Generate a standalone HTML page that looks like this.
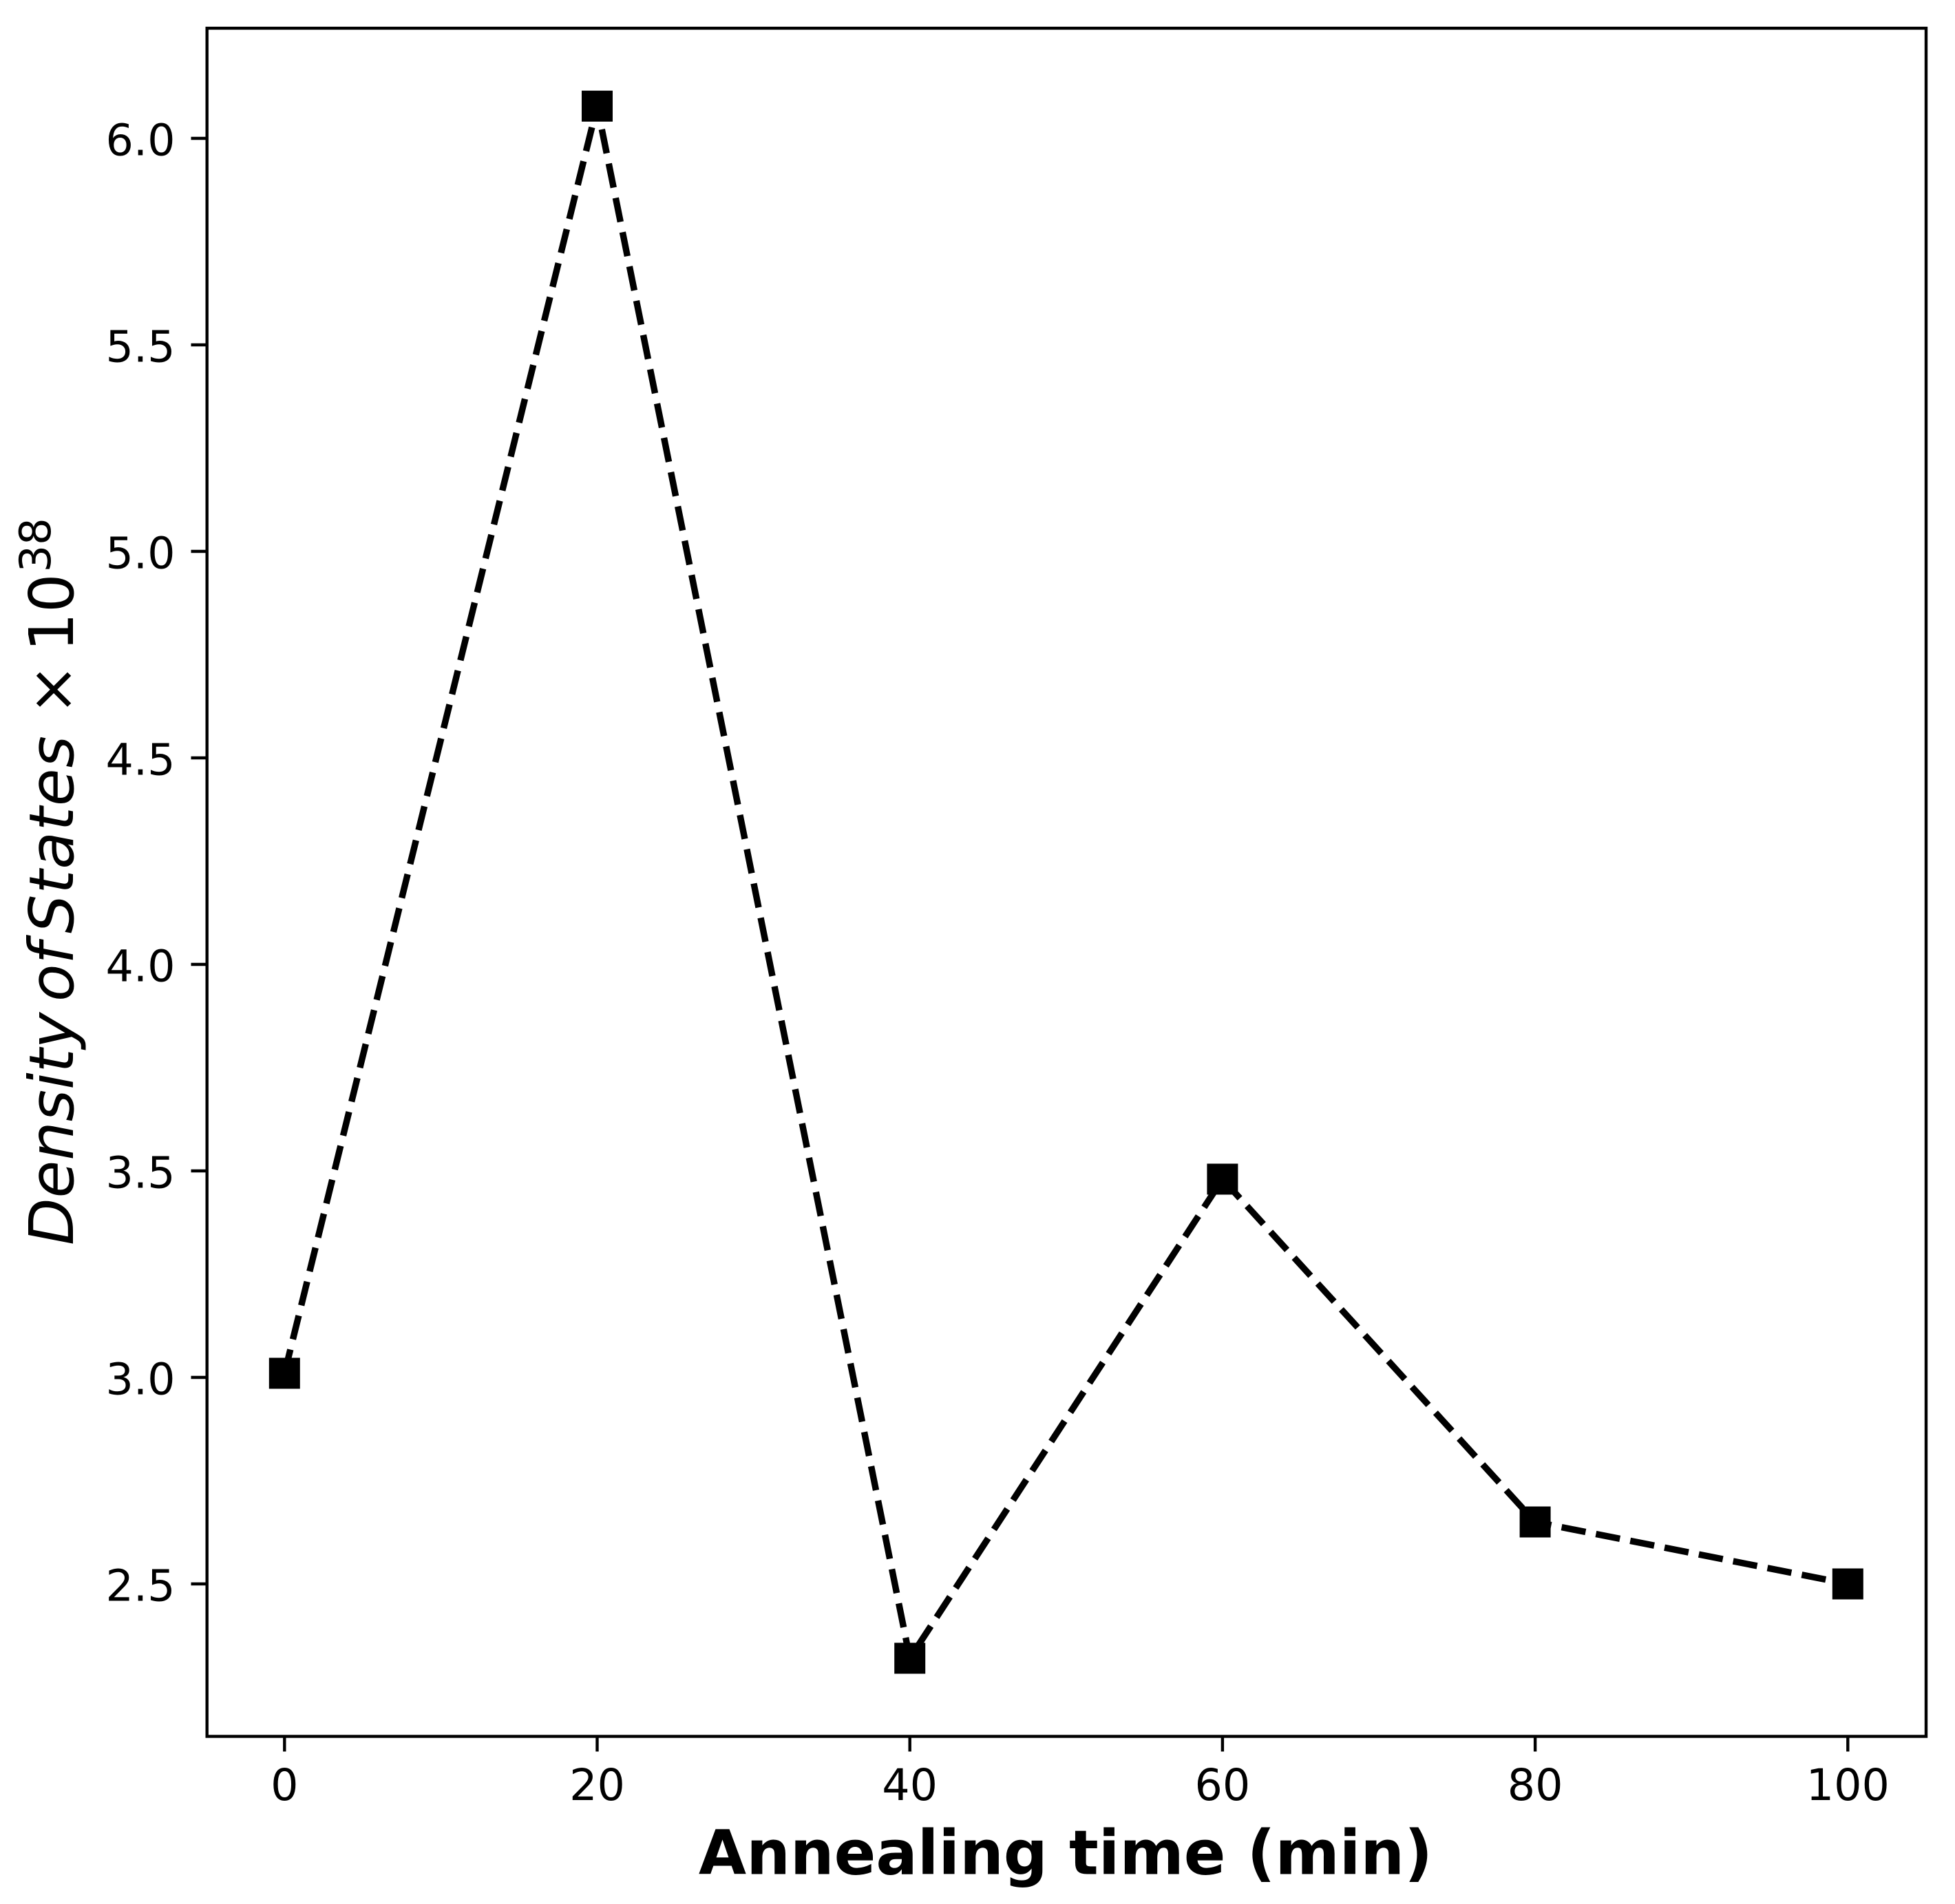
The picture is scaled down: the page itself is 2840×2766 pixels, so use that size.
<!DOCTYPE html>
<html lang="en">
<head>
<meta charset="utf-8">
<title>Density of States vs Annealing time</title>
<style>
html,body{margin:0;padding:0;background:#fff;}
svg{display:block;}
text{font-family:"DejaVu Sans","Liberation Sans",sans-serif;fill:#000;}
</style>
</head>
<body>
<svg id="chart" xmlns="http://www.w3.org/2000/svg" width="2840" height="2766" viewBox="0 0 2840 2766">
  <rect x="0" y="0" width="2840" height="2766" fill="#fff"/>
  <g id="ticks"></g>
  <g id="series"></g>
  <rect x="300.7" y="41" width="2497.3" height="2481.5" fill="none" stroke="#000" stroke-width="4.4"/>
  <text x="1548" y="2722.5" text-anchor="middle" font-size="89.5" font-weight="700">Annealing time (min)</text>
  <g transform="translate(106,1809) rotate(-90)">
    <text x="0" y="0" font-size="89" font-style="italic">Density</text>
    <text x="354" y="0" font-size="89" font-style="italic">of</text>
    <text x="453" y="0" font-size="89" font-style="italic" letter-spacing="1">States</text>
    <text x="770" y="0" font-size="89">×</text>
    <text x="862.4" y="0" font-size="89">10</text>
    <text x="977.7" y="-33" font-size="62">38</text>
  </g>
</svg>
<script>
const annealingTimes = [0, 20, 40, 60, 80, 100];
const densityValues = [3.01, 6.078, 2.32, 3.48, 2.65, 2.5];
const xTickValues = [0, 20, 40, 60, 80, 100];
const yTickValues = [2.5, 3.0, 3.5, 4.0, 4.5, 5.0, 5.5, 6.0];

function xScale(v) { return 413.3 + v * 22.71; }
function yScale(v) { return 201 + (6 - v) * 600; }

const NS = 'http://www.w3.org/2000/svg';
function make(tag, parent, attrs, content) {
  const el = document.createElementNS(NS, tag);
  for (const k in attrs) el.setAttribute(k, attrs[k]);
  if (content !== undefined) el.textContent = content;
  parent.appendChild(el);
  return el;
}

const ticks = document.getElementById('ticks');
xTickValues.forEach(function (v) {
  const x = xScale(v);
  const mark = make('line', ticks, { x1: x, x2: x, y1: 2522.5, y2: 2544.5, stroke: '#000', 'stroke-width': 4.4 });
  
  
  const label = make('text', ticks, { x: x, y: 2615, 'text-anchor': 'middle', 'font-size': 63.5 }, String(v));
  
  
});
yTickValues.forEach(function (v) {
  const y = yScale(v);
  const mark = make('line', ticks, { x1: 277.5, x2: 301, y1: y, y2: y, stroke: '#000', 'stroke-width': 4.4 });
  
  
  const label = make('text', ticks, { x: 254.5, y: y + 24.5, 'text-anchor': 'end', 'font-size': 63.5 }, v.toFixed(1));
  
  
});

const series = document.getElementById('series');
const linePoints = annealingTimes.map(function (t, i) {
  return xScale(t) + ',' + yScale(densityValues[i]);
}).join(' ');
const dashedLine = make('polyline', series, {
  points: linePoints, fill: 'none', stroke: '#000', 'stroke-width': 9.4,
  'stroke-dasharray': '35.5 15.3', 'stroke-linejoin': 'round', 'stroke-linecap': 'butt'
});


annealingTimes.forEach(function (t, i) {
  const size = 45;
  const marker = make('rect', series, {
    x: xScale(t) - size / 2, y: yScale(densityValues[i]) - size / 2,
    width: size, height: size, fill: '#000'
  });
  
  
});
</script>
</body>
</html>
